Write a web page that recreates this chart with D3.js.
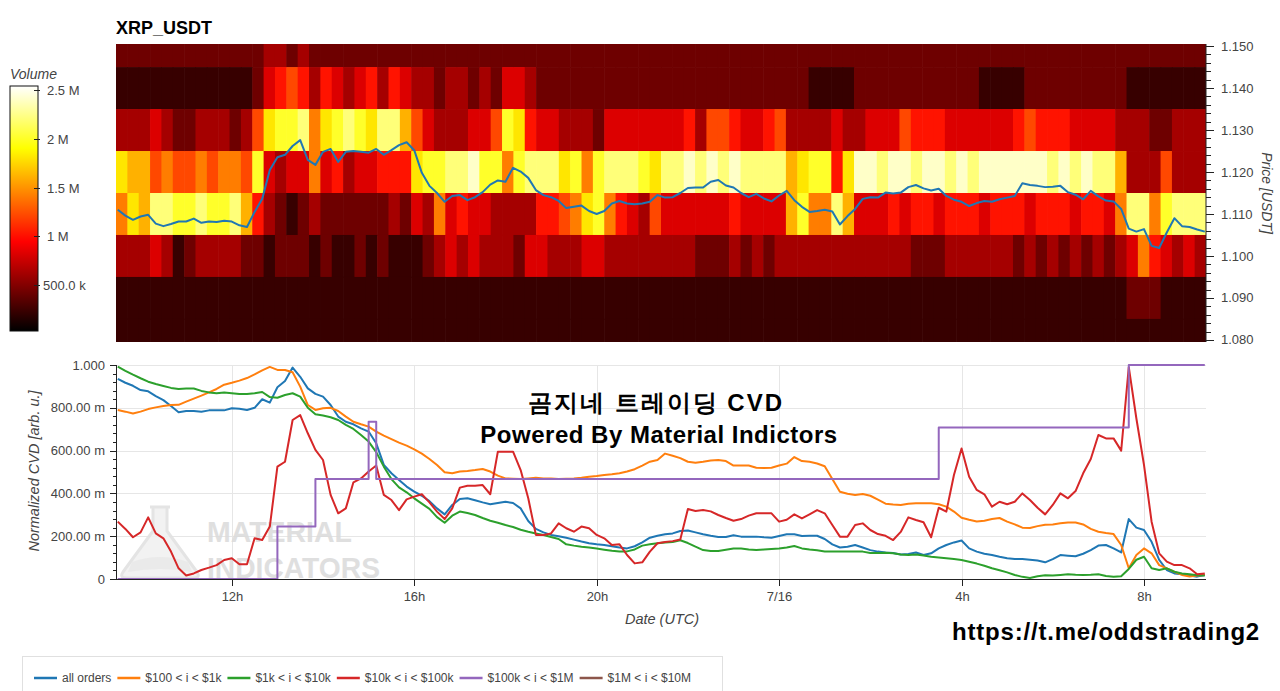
<!DOCTYPE html>
<html>
<head>
<meta charset="utf-8">
<title>XRP_USDT volume heatmap and CVD</title>
<script src="https://cdn.jsdelivr.net/npm/d3@7"></script>
<style>
  body { margin: 0; background: #fff; }
  text { font-family: "Liberation Sans", Arial, sans-serif; }
</style>
</head>
<body>
<div id="chart"></div>
<script>
// ---------------- data ----------------
var startTime = new Date(Date.UTC(2021, 6, 15, 9, 27, 40));
var endTime   = new Date(Date.UTC(2021, 6, 16, 9, 21, 35));

// heatmap: one row per price level, one char per 15-min column.
// each char is a hex digit, volume = digit * 0.2 M
var priceLevels = [1.15, 1.14, 1.13, 1.12, 1.11, 1.10, 1.09, 1.08];
var volumeStep = 200000;
var volumeRows = [
  "222222222222 233232222222 222222222222 222222222222 222222222222 222222222222 222222222222 222222222222",
  "111111111111 245653543453 543323323244 322222222222 222222222222 211112222222 222211112222 222221111111",
  "333432233323 69aab79aba9b b864333446a9 544333244444 445366544563 333433444655 544444456555 444433322333",
  "988676676776 a43447453445 559aabbcaa7a bbb9a7abbba9 bbcbcbcbbbb8 9aa59ccbccbc cbcbccccccbc bcbb83336333",
  "798bbaabaab8 532123222222 324374544333 355679a75436 444444544448 a77b84445455 455545554555 45547bb7abbb",
  "333431233332 212221211212 111234343332 443334433333 333222323233 333333333322 233333323232 323234754343",
  "111111111111 111111111111 111111111111 111111111111 111111111111 111111111111 111111111111 111112221111",
  "111111111111 111111111111 111111111111 111111111111 111111111111 111111111111 111111111111 111111111111"
];
var colorTicks = [500000, 1000000, 1500000, 2000000, 2500000];
var colorTickLabels = ["500.0 k", "1 M", "1.5 M", "2 M", "2.5 M"];

// price and CVD series: one value every 10 minutes from 09:30 UTC
var lineStart = Date.UTC(2021, 6, 15, 9, 30);
var lineStepMinutes = 10;

var price = [
  1.1110, 1.1096, 1.1086, 1.1094, 1.1098, 1.1077, 1.1071, 1.1076, 1.1082, 1.1082,
  1.1089, 1.1079, 1.1082, 1.1081, 1.1084, 1.1082, 1.1073, 1.1069, 1.1105, 1.1136,
  1.1205, 1.1235, 1.1241, 1.1262, 1.1276, 1.1229, 1.1217, 1.1248, 1.1255, 1.1224,
  1.1248, 1.1250, 1.1248, 1.1246, 1.1255, 1.1241, 1.1252, 1.1264, 1.1271, 1.1252,
  1.1198, 1.1167, 1.1150, 1.1129, 1.1143, 1.1145, 1.1133, 1.1140, 1.1152, 1.1170,
  1.1180, 1.1177, 1.1210, 1.1201, 1.1186, 1.1157, 1.1145, 1.1140, 1.1131, 1.1114,
  1.1117, 1.1120, 1.1107, 1.1100, 1.1107, 1.1125, 1.1131, 1.1125, 1.1123, 1.1125,
  1.1129, 1.1145, 1.1139, 1.1140, 1.1150, 1.1162, 1.1163, 1.1163, 1.1177, 1.1181,
  1.1168, 1.1163, 1.1150, 1.1140, 1.1148, 1.1137, 1.1130, 1.1144, 1.1155, 1.1133,
  1.1117, 1.1105, 1.1107, 1.1110, 1.1106, 1.1075, 1.1095, 1.1112, 1.1136, 1.1140,
  1.1139, 1.1151, 1.1149, 1.1151, 1.1164, 1.1169, 1.1161, 1.1156, 1.1160, 1.1143,
  1.1134, 1.1129, 1.1119, 1.1126, 1.1131, 1.1129, 1.1135, 1.1139, 1.1143, 1.1173,
  1.1169, 1.1167, 1.1164, 1.1165, 1.1167, 1.1152, 1.1146, 1.1135, 1.1155, 1.1142,
  1.1132, 1.1130, 1.1112, 1.1065, 1.1058, 1.1064, 1.1024, 1.1019, 1.1056, 1.1090,
  1.1071, 1.1069, 1.1063, 1.1058
];

var cvdAll = [
  0.935, 0.917, 0.903, 0.883, 0.877, 0.855, 0.836, 0.808, 0.779, 0.785,
  0.785, 0.782, 0.788, 0.788, 0.788, 0.798, 0.796, 0.790, 0.800, 0.840,
  0.824, 0.896, 0.925, 0.988, 0.945, 0.891, 0.865, 0.852, 0.813, 0.759,
  0.735, 0.723, 0.704, 0.689, 0.634, 0.533, 0.494, 0.463, 0.432, 0.408,
  0.389, 0.364, 0.330, 0.302, 0.346, 0.374, 0.377, 0.368, 0.358, 0.349,
  0.355, 0.361, 0.355, 0.330, 0.271, 0.234, 0.218, 0.206, 0.200, 0.193,
  0.184, 0.175, 0.167, 0.162, 0.159, 0.153, 0.147, 0.143, 0.153, 0.171,
  0.193, 0.202, 0.209, 0.213, 0.224, 0.227, 0.218, 0.209, 0.202, 0.196,
  0.196, 0.204, 0.198, 0.198, 0.198, 0.195, 0.193, 0.201, 0.209, 0.209,
  0.201, 0.202, 0.202, 0.187, 0.162, 0.147, 0.151, 0.159, 0.147, 0.135,
  0.128, 0.124, 0.121, 0.115, 0.117, 0.124, 0.112, 0.120, 0.143, 0.159,
  0.171, 0.180, 0.143, 0.128, 0.118, 0.112, 0.104, 0.097, 0.093, 0.093,
  0.090, 0.086, 0.078, 0.093, 0.112, 0.109, 0.106, 0.118, 0.135, 0.156,
  0.159, 0.143, 0.124, 0.280, 0.240, 0.229, 0.174, 0.089, 0.042, 0.026,
  0.022, 0.016, 0.011, 0.019
];

var cvd100 = [
  0.790, 0.782, 0.773, 0.782, 0.794, 0.802, 0.808, 0.813, 0.814, 0.829,
  0.843, 0.857, 0.872, 0.888, 0.908, 0.917, 0.927, 0.939, 0.956, 0.975,
  0.991, 0.977, 0.977, 0.966, 0.899, 0.813, 0.790, 0.798, 0.800, 0.785,
  0.759, 0.735, 0.723, 0.712, 0.689, 0.670, 0.654, 0.637, 0.623, 0.606,
  0.586, 0.561, 0.533, 0.499, 0.494, 0.502, 0.505, 0.509, 0.514, 0.502,
  0.483, 0.470, 0.469, 0.467, 0.470, 0.473, 0.470, 0.470, 0.467, 0.469,
  0.470, 0.473, 0.478, 0.481, 0.486, 0.489, 0.494, 0.502, 0.513, 0.530,
  0.548, 0.556, 0.586, 0.576, 0.565, 0.548, 0.543, 0.548, 0.554, 0.556,
  0.551, 0.530, 0.530, 0.530, 0.520, 0.519, 0.520, 0.530, 0.539, 0.570,
  0.551, 0.548, 0.540, 0.527, 0.467, 0.408, 0.398, 0.393, 0.397, 0.389,
  0.371, 0.352, 0.348, 0.346, 0.352, 0.354, 0.354, 0.354, 0.349, 0.338,
  0.315, 0.286, 0.277, 0.269, 0.272, 0.280, 0.285, 0.268, 0.255, 0.240,
  0.238, 0.247, 0.254, 0.255, 0.260, 0.264, 0.264, 0.255, 0.234, 0.221,
  0.215, 0.210, 0.159, 0.050, 0.112, 0.143, 0.120, 0.065, 0.050, 0.034,
  0.019, 0.012, 0.016, 0.019
];

var cvd1k = [
  0.992, 0.973, 0.955, 0.938, 0.922, 0.911, 0.902, 0.893, 0.888, 0.890,
  0.890, 0.879, 0.872, 0.868, 0.871, 0.868, 0.864, 0.864, 0.868, 0.874,
  0.850, 0.847, 0.860, 0.868, 0.852, 0.800, 0.770, 0.764, 0.756, 0.743,
  0.720, 0.701, 0.673, 0.642, 0.593, 0.525, 0.467, 0.428, 0.405, 0.377,
  0.352, 0.328, 0.289, 0.263, 0.296, 0.315, 0.308, 0.299, 0.285, 0.272,
  0.263, 0.252, 0.243, 0.230, 0.221, 0.213, 0.206, 0.196, 0.187, 0.162,
  0.156, 0.151, 0.147, 0.142, 0.137, 0.132, 0.128, 0.129, 0.138, 0.156,
  0.162, 0.167, 0.170, 0.173, 0.181, 0.168, 0.151, 0.135, 0.131, 0.131,
  0.137, 0.143, 0.142, 0.138, 0.135, 0.138, 0.140, 0.142, 0.147, 0.154,
  0.143, 0.138, 0.134, 0.129, 0.128, 0.128, 0.128, 0.129, 0.128, 0.121,
  0.121, 0.123, 0.120, 0.114, 0.112, 0.114, 0.110, 0.104, 0.101, 0.097,
  0.093, 0.089, 0.081, 0.072, 0.062, 0.050, 0.041, 0.031, 0.019, 0.010,
  0.005, 0.013, 0.017, 0.016, 0.019, 0.022, 0.020, 0.019, 0.020, 0.022,
  0.014, 0.011, 0.013, 0.047, 0.090, 0.104, 0.050, 0.042, 0.050, 0.034,
  0.026, 0.022, 0.017, 0.016
];

var cvd10k = [
  0.268, 0.234, 0.195, 0.218, 0.288, 0.213, 0.190, 0.128, 0.050, 0.016,
  0.026, 0.042, 0.053, 0.065, 0.089, 0.097, 0.069, 0.069, 0.190, 0.182,
  0.245, 0.525, 0.548, 0.743, 0.766, 0.681, 0.603, 0.556, 0.393, 0.307,
  0.330, 0.452, 0.470, 0.502, 0.530, 0.393, 0.369, 0.322, 0.372, 0.385,
  0.396, 0.358, 0.315, 0.280, 0.330, 0.427, 0.436, 0.436, 0.439, 0.396,
  0.595, 0.595, 0.595, 0.509, 0.377, 0.206, 0.206, 0.213, 0.260, 0.237,
  0.221, 0.245, 0.237, 0.206, 0.190, 0.159, 0.162, 0.112, 0.073, 0.078,
  0.128, 0.167, 0.173, 0.177, 0.185, 0.327, 0.318, 0.322, 0.316, 0.299,
  0.285, 0.272, 0.280, 0.296, 0.307, 0.307, 0.307, 0.268, 0.277, 0.302,
  0.283, 0.302, 0.322, 0.307, 0.252, 0.198, 0.198, 0.252, 0.260, 0.229,
  0.210, 0.202, 0.182, 0.220, 0.288, 0.276, 0.265, 0.195, 0.333, 0.315,
  0.486, 0.610, 0.478, 0.416, 0.396, 0.338, 0.361, 0.349, 0.361, 0.400,
  0.369, 0.333, 0.302, 0.346, 0.400, 0.377, 0.411, 0.494, 0.561, 0.673,
  0.657, 0.657, 0.600, 0.990, 0.750, 0.533, 0.268, 0.120, 0.081, 0.065,
  0.065, 0.050, 0.022, 0.026
];

var cvd100k = [
  0, 0, 0, 0, 0, 0, 0, 0, 0, 0,
  0, 0, 0, 0, 0, 0, 0, 0, 0, 0,
  0, 0.245, 0.245, 0.245, 0.245, 0.245, 0.467, 0.467, 0.467, 0.467,
  0.467, 0.467, 0.467, 0.735, 0.467, 0.467, 0.467, 0.467, 0.467, 0.467,
  0.467, 0.467, 0.467, 0.467, 0.467, 0.467, 0.467, 0.467, 0.467, 0.467,
  0.467, 0.467, 0.467, 0.467, 0.467, 0.467, 0.467, 0.467, 0.467, 0.467,
  0.467, 0.467, 0.467, 0.467, 0.467, 0.467, 0.467, 0.467, 0.467, 0.467,
  0.467, 0.467, 0.467, 0.467, 0.467, 0.467, 0.467, 0.467, 0.467, 0.467,
  0.467, 0.467, 0.467, 0.467, 0.467, 0.467, 0.467, 0.467, 0.467, 0.467,
  0.467, 0.467, 0.467, 0.467, 0.467, 0.467, 0.467, 0.467, 0.467, 0.467,
  0.467, 0.467, 0.467, 0.467, 0.467, 0.467, 0.467, 0.467, 0.708, 0.708,
  0.708, 0.708, 0.708, 0.708, 0.708, 0.708, 0.708, 0.708, 0.708, 0.708,
  0.708, 0.708, 0.708, 0.708, 0.708, 0.708, 0.708, 0.708, 0.708, 0.708,
  0.708, 0.708, 0.708, 1, 1, 1, 1, 1, 1, 1,
  1, 1, 1, 1
];

// not visible anywhere in the reference plot, only in the legend
var cvd1M = [];

var seriesNames = ["all orders", "$100 < i < $1k", "$1k < i < $10k", "$10k < i < $100k", "$100k < i < $1M", "$1M < i < $10M"];
var seriesColors = ["#1f77b4", "#ff7f0e", "#2ca02c", "#d62728", "#9467bd", "#8c564b"];
var seriesValues = [cvdAll, cvd100, cvd1k, cvd10k, cvd100k, cvd1M];

var cvdTicks = [0, 0.2, 0.4, 0.6, 0.8, 1];
var cvdTickLabels = ["0", "200.00 m", "400.00 m", "600.00 m", "800.00 m", "1.000"];
var priceTicks = [1.08, 1.09, 1.10, 1.11, 1.12, 1.13, 1.14, 1.15];

// ---------------- chart ----------------
var W = 1280, H = 691;
var axisGrey = "#444";

var svg = d3.select("#chart").append("svg")
    .attr("width", W)
    .attr("height", H);

var x = d3.scaleUtc().domain([startTime, endTime]).range([116, 1206]);
var yPrice = d3.scaleLinear().domain([1.0795, 1.1505]).range([342, 44]);
var yCvd = d3.scaleLinear().domain([0, 1]).range([579, 365]);

// matplotlib style "hot" colour map
var vMax = 2540000;
function hot(v) {
    var t = Math.max(0, Math.min(1, v / vMax));
    var r = Math.min(1, t / 0.365);
    var g = Math.max(0, Math.min(1, (t - 0.365) / 0.381));
    var b = Math.max(0, Math.min(1, (t - 0.746) / 0.254));
    return d3.rgb(r * 255, g * 255, b * 255);
}

var defs = svg.append("defs");
defs.append("clipPath").attr("id", "heatClip")
  .append("rect").attr("x", 116).attr("y", 44).attr("width", 1090).attr("height", 298);

// title
svg.append("text")
    .attr("x", 116).attr("y", 34)
    .attr("font-size", 18).attr("font-weight", "bold").attr("fill", "#000")
    .text("XRP_USDT");

// heatmap cells
var rows = volumeRows.map(function(r) { return r.replace(/ /g, ""); });
var nCols = rows[0].length;
var colMs = (endTime - startTime) / nCols;
var cells = [];
rows.forEach(function(row, r) {
    for (var c = 0; c < nCols; c++) {
        cells.push({ price: priceLevels[r], col: c, vol: parseInt(row[c], 16) * volumeStep });
    }
});

var heat = svg.append("g").attr("clip-path", "url(#heatClip)");
heat.selectAll("rect.cell")
    .data(cells)
    .enter().append("rect")
    .attr("class", "cell")
    .attr("x", function(d) { return x(new Date(+startTime + d.col * colMs)); })
    .attr("width", function(d) {
        return x(new Date(+startTime + (d.col + 1) * colMs)) - x(new Date(+startTime + d.col * colMs)) + 0.6;
    })
    .attr("y", function(d) { return yPrice(d.price + 0.005); })
    .attr("height", function(d) { return yPrice(d.price - 0.005) - yPrice(d.price + 0.005) + 0.6; })
    .attr("fill", function(d) { return hot(d.vol); });

// price line
function timeAt(i) { return new Date(lineStart + i * lineStepMinutes * 60000); }

heat.append("path")
    .datum(price)
    .attr("fill", "none")
    .attr("stroke", "#1f77b4")
    .attr("stroke-width", 2)
    .attr("stroke-linejoin", "round")
    .attr("d", d3.line()
        .x(function(d, i) { return x(timeAt(i)); })
        .y(function(d) { return yPrice(d); }));

// right price axis
var priceAxis = svg.append("g").attr("transform", "translate(1206,0)");
priceAxis.append("line").attr("x1", 0).attr("x2", 0).attr("y1", 44).attr("y2", 342)
    .attr("stroke", "#222").attr("stroke-width", 1);
d3.range(1080, 1151, 2).forEach(function(k) {
    var major = k % 10 === 0;
    var yy = Math.round(yPrice(k / 1000)) + 0.5;
    priceAxis.append("line")
        .attr("x1", 0).attr("x2", major ? 8 : 5)
        .attr("y1", yy).attr("y2", yy)
        .attr("stroke", "#222");
});
priceAxis.selectAll("text.ptick")
    .data(priceTicks)
    .enter().append("text")
    .attr("x", 15)
    .attr("y", function(d) { return yPrice(d); })
    .attr("dy", "0.35em")
    .attr("font-size", 13)
    .attr("fill", axisGrey)
    .text(function(d) { return d3.format(".3f")(d); });

svg.append("text")
    .attr("transform", "translate(1262,193) rotate(90)")
    .attr("text-anchor", "middle")
    .attr("font-size", 14)
    .attr("font-style", "italic")
    .attr("fill", axisGrey)
    .text("Price [USDT]");

// colour bar
var grad = defs.append("linearGradient").attr("id", "hotGrad")
    .attr("x1", 0).attr("y1", 1).attr("x2", 0).attr("y2", 0);
[[0, "#000000"], [0.365, "#ff0000"], [0.746, "#ffff00"], [1, "#ffffff"]].forEach(function(s) {
    grad.append("stop").attr("offset", s[0]).attr("stop-color", s[1]);
});
var cbY = d3.scaleLinear().domain([0, vMax]).range([334, 86]);
svg.append("rect")
    .attr("x", 10).attr("y", 86).attr("width", 28).attr("height", 245)
    .attr("fill", "url(#hotGrad)")
    .attr("stroke", "#111").attr("stroke-width", 1);
colorTicks.forEach(function(v, i) {
    var yy = Math.round(cbY(v)) + 0.5;
    svg.append("line").attr("x1", 34).attr("x2", 40).attr("y1", yy).attr("y2", yy).attr("stroke", "#222");
    svg.append("text")
        .attr("x", i === 0 ? 43 : 47).attr("y", yy).attr("dy", "0.35em")
        .attr("font-size", 13).attr("fill", axisGrey)
        .text(colorTickLabels[i]);
});
svg.append("text")
    .attr("x", 10).attr("y", 79)
    .attr("font-size", 14).attr("font-style", "italic").attr("fill", axisGrey)
    .text("Volume");

// ---------- CVD panel ----------
var xTicks = x.ticks(d3.utcHour.every(4));
function tickLabel(d) {
    if (d.getUTCHours() === 0) return (d.getUTCMonth() + 1) + "/" + d.getUTCDate();
    return d.getUTCHours() + "h";
}

var grid = svg.append("g");
cvdTicks.forEach(function(v) {
    if (v === 0) return;
    grid.append("line")
        .attr("x1", 116).attr("x2", 1206)
        .attr("y1", Math.round(yCvd(v)) + 0.5).attr("y2", Math.round(yCvd(v)) + 0.5)
        .attr("stroke", "#e6e6e6");
});
xTicks.forEach(function(t) {
    grid.append("line")
        .attr("x1", Math.round(x(t)) + 0.5).attr("x2", Math.round(x(t)) + 0.5)
        .attr("y1", 365).attr("y2", 579)
        .attr("stroke", "#e6e6e6");
});

// watermark (flask logo + two-line name)
var wm = svg.append("g").attr("opacity", 0.9);
wm.append("path")
    .attr("d", "M150,507 L170,507 M153,507 L153,531 L123,572 Q119,578 127,578 L193,578 Q201,578 197,572 L167,531 L167,507")
    .attr("fill", "#f1f1f1")
    .attr("stroke", "#e2e2e2").attr("stroke-width", 3).attr("stroke-linejoin", "round");
wm.append("path")
    .attr("d", "M132,562 Q160,552 188,562 L192,572 Q160,566 128,572 Z")
    .attr("fill", "#e8e8e8");
[["MATERIAL", 542, 145], ["INDICATORS", 578, 173]].forEach(function(w) {
    wm.append("text")
        .attr("x", 207).attr("y", w[1])
        .attr("font-family", "'DejaVu Sans Condensed', 'DejaVu Sans', sans-serif")
        .attr("font-weight", "bold").attr("font-size", 30)
        .attr("textLength", w[2]).attr("lengthAdjust", "spacingAndGlyphs")
        .attr("fill", "#dcdcdc")
        .text(w[0]);
});

// CVD lines
var cvdLine = d3.line()
    .x(function(d, i) { return x(timeAt(i)); })
    .y(function(d) { return yCvd(d); });
var stepLine = d3.line()
    .curve(d3.curveStepAfter)
    .x(function(d, i) { return x(timeAt(i)); })
    .y(function(d) { return yCvd(d); });

seriesValues.forEach(function(vals, k) {
    if (!vals.length) return;
    svg.append("path")
        .datum(vals)
        .attr("fill", "none")
        .attr("stroke", seriesColors[k])
        .attr("stroke-width", 2)
        .attr("stroke-linejoin", "round")
        .attr("d", k === 4 ? stepLine : cvdLine);
});

// left axis
var left = svg.append("g");
left.append("line").attr("x1", 116.5).attr("x2", 116.5).attr("y1", 365).attr("y2", 579).attr("stroke", "#222");
d3.range(0, 26).forEach(function(k) {
    var v = k * 0.04;
    var major = k % 5 === 0;
    var yy = Math.round(yCvd(v)) + 0.5;
    left.append("line").attr("x1", 116).attr("x2", major ? 110 : 113)
        .attr("y1", yy).attr("y2", yy).attr("stroke", "#222");
});
cvdTicks.forEach(function(v, i) {
    left.append("text")
        .attr("x", 105).attr("y", yCvd(v)).attr("dy", "0.35em")
        .attr("text-anchor", "end").attr("font-size", 13).attr("fill", axisGrey)
        .text(cvdTickLabels[i]);
});
svg.append("text")
    .attr("transform", "translate(39,471) rotate(-90)")
    .attr("text-anchor", "middle")
    .attr("font-size", 14.5).attr("font-style", "italic").attr("fill", axisGrey)
    .text("Normalized CVD [arb. u.]");

// bottom axis
var bottom = svg.append("g");
bottom.append("line").attr("x1", 116).attr("x2", 1206).attr("y1", 579.5).attr("y2", 579.5).attr("stroke", "#222");
xTicks.forEach(function(t) {
    var xx = Math.round(x(t)) + 0.5;
    bottom.append("line").attr("x1", xx).attr("x2", xx).attr("y1", 579).attr("y2", 586).attr("stroke", "#222");
    bottom.append("text")
        .attr("x", xx).attr("y", 601)
        .attr("text-anchor", "middle").attr("font-size", 13).attr("fill", axisGrey)
        .text(tickLabel(t));
});
svg.append("text")
    .attr("x", 662).attr("y", 624)
    .attr("text-anchor", "middle")
    .attr("font-size", 14.5).attr("font-style", "italic").attr("fill", axisGrey)
    .text("Date (UTC)");

// overlay captions
svg.append("text")
    .attr("x", 656).attr("y", 411)
    .attr("text-anchor", "middle")
    .attr("font-family", "'Noto Sans CJK KR', 'Noto Sans', sans-serif")
    .attr("font-weight", "bold").attr("font-size", 24)
    .attr("letter-spacing", 2)
    .attr("fill", "#000")
    .text("곰지네 트레이딩 CVD");
svg.append("text")
    .attr("x", 659).attr("y", 443)
    .attr("text-anchor", "middle")
    .attr("font-family", "'Noto Sans', sans-serif")
    .attr("font-weight", "bold").attr("font-size", 24)
    .attr("letter-spacing", 0.5)
    .attr("fill", "#000")
    .text("Powered By Material Indictors");
svg.append("text")
    .attr("x", 1106).attr("y", 640)
    .attr("text-anchor", "middle")
    .attr("font-family", "'Noto Sans', sans-serif")
    .attr("font-weight", "bold").attr("font-size", 24)
    .attr("letter-spacing", 0.8)
    .attr("fill", "#000")
    .text("https://t.me/oddstrading2");

// legend
var legend = svg.append("g");
legend.append("rect")
    .attr("x", 22.5).attr("y", 656.5).attr("width", 700).attr("height", 40)
    .attr("fill", "#fff").attr("stroke", "#e0e0e0");
var lx = 34;
seriesNames.forEach(function(name, k) {
    legend.append("line")
        .attr("x1", lx).attr("x2", lx + 23).attr("y1", 678).attr("y2", 678)
        .attr("stroke", seriesColors[k]).attr("stroke-width", 2.5);
    var t = legend.append("text")
        .attr("x", lx + 28).attr("y", 678).attr("dy", "0.35em")
        .attr("font-size", 12).attr("fill", axisGrey)
        .text(name);
    lx += 28 + t.node().getComputedTextLength() + 6;
});
</script>
</body>
</html>
